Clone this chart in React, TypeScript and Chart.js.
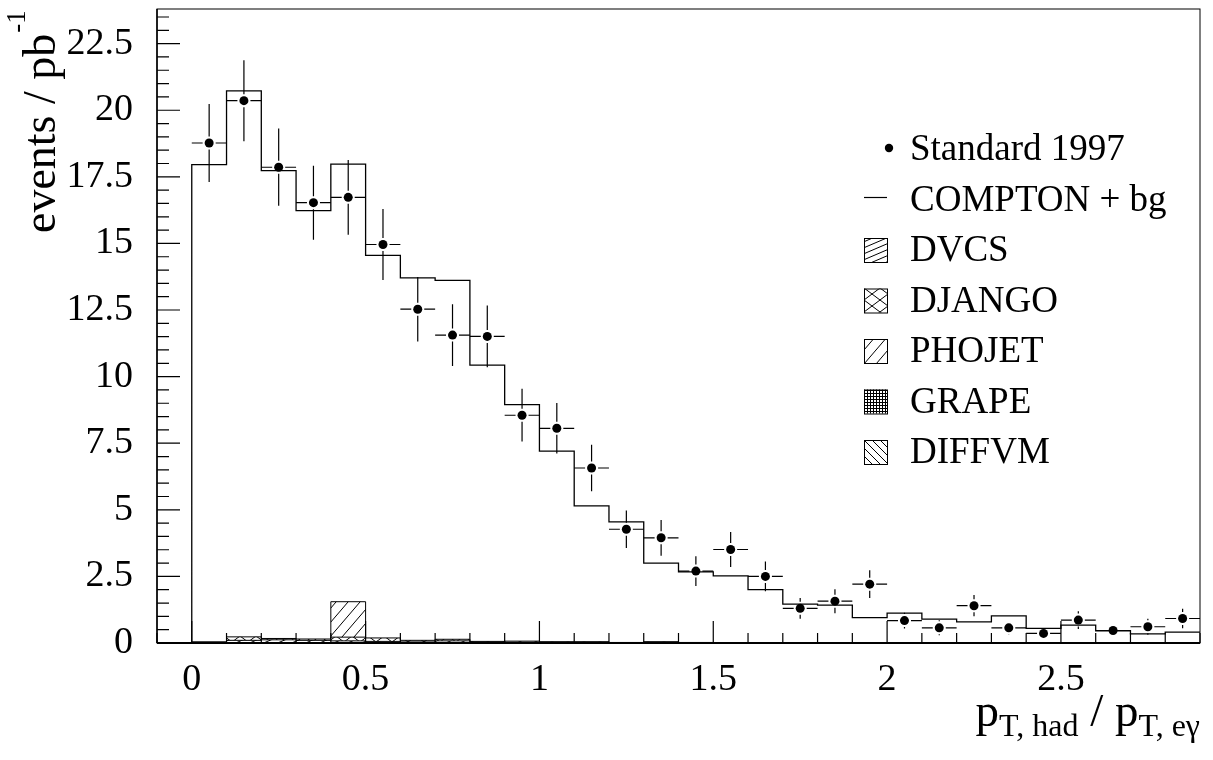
import React, { useEffect, useRef } from "react";
import { Chart, registerables } from "chart.js";

Chart.register(...registerables);

// ---------- data ----------
const binLeft = [
  0, 0.1, 0.2, 0.3, 0.4, 0.5, 0.6, 0.7, 0.8, 0.9,
  1.0, 1.1, 1.2, 1.3, 1.4, 1.5, 1.6, 1.7, 1.8, 1.9,
  2.0, 2.1, 2.2, 2.3, 2.4, 2.5, 2.6, 2.7, 2.8,
];
const binWidth = 0.1;
const lastEdge = 2.9;

const comptonBg = [
  17.96, 20.73, 17.73, 16.23, 17.98, 14.55, 13.71, 13.61, 10.43, 8.95,
  7.2, 5.15, 4.55, 3.0, 2.67, 2.52, 2.0, 1.46, 1.42, 0.95,
  1.12, 0.9, 0.79, 1.02, 0.55, 0.67, 0.46, 0.34, 0.41,
];

const data1997 = [
  18.77, 20.36, 17.86, 16.53, 16.73, 14.96, 12.53, 11.56, 11.51, 8.55,
  8.06, 6.57, 4.27, 3.95, 2.7, 3.51, 2.5, 1.3, 1.57, 2.21,
  0.84, 0.57, 1.4, 0.57, 0.36, 0.86, 0.47, 0.61, 0.92,
];
const data1997Err = [
  1.46, 1.52, 1.45, 1.39, 1.4, 1.33, 1.21, 1.16, 1.16, 0.99,
  0.95, 0.87, 0.7, 0.67, 0.56, 0.66, 0.56, 0.39, 0.45, 0.52,
  0.3, 0.28, 0.4, 0.25, 0.18, 0.33, 0.22, 0.3, 0.37,
];

const dvcs = [
  0.02, 0.1, 0.12, 0.1, 0.08, 0.06, 0.04, 0.08, 0.03, 0.03,
  0.02, 0.02, 0.01, 0.02, 0.01, 0, 0, 0, 0, 0,
  0, 0, 0, 0, 0, 0, 0, 0, 0,
];
const django = [
  0.03, 0.23, 0.17, 0.15, 0.22, 0.19, 0.1, 0.14, 0.06, 0.07,
  0.05, 0.05, 0.02, 0.05, 0.02, 0.01, 0.01, 0, 0, 0,
  0, 0, 0, 0, 0, 0, 0, 0, 0,
];
const phojet = [
  0, 0, 0, 0, 1.55, 0, 0, 0, 0, 0,
  0, 0, 0, 0, 0, 0, 0, 0, 0, 0,
  0, 0, 0, 0, 0, 0, 0, 0, 0,
];
const grape = [
  0.04, 0.05, 0.05, 0.06, 0.08, 0.04, 0.03, 0.02, 0.02, 0.02,
  0.01, 0.01, 0.01, 0.01, 0, 0, 0, 0, 0, 0,
  0, 0, 0, 0, 0, 0, 0, 0, 0,
];
const diffvm = [
  0.02, 0.04, 0.03, 0.03, 0.04, 0.03, 0.02, 0.02, 0.01, 0.01,
  0, 0, 0, 0, 0, 0, 0, 0, 0, 0,
  0, 0, 0, 0, 0, 0, 0, 0, 0,
];

const xTickValues = [0, 0.5, 1, 1.5, 2, 2.5];
const xTickLabels = ["0", "0.5", "1", "1.5", "2", "2.5"];
const yTickValues = [0, 2.5, 5, 7.5, 10, 12.5, 15, 17.5, 20, 22.5];
const yTickLabels = ["0", "2.5", "5", "7.5", "10", "12.5", "15", "17.5", "20", "22.5"];

const legendLabels = [
  "Standard 1997",
  "COMPTON + bg",
  "DVCS",
  "DJANGO",
  "PHOJET",
  "GRAPE",
  "DIFFVM",
];
const legendKinds = ["marker", "line", "dvcs", "django", "phojet", "grape", "diffvm"];

const yTitleMain = "events / pb";
const yTitleSup = "-1";
const xTitleParts = [
  { t: "p", sub: false },
  { t: "T, had", sub: true },
  { t: " / ", sub: false },
  { t: "p", sub: false },
  { t: "T, eγ", sub: true },
];

const FONT = "'Liberation Serif', 'Times New Roman', serif";

// ---------- helpers ----------
function histPoints(vals: number[]) {
  const pts: { x: number; y: number }[] = [{ x: binLeft[0], y: 0 }];
  vals.forEach((v, i) => pts.push({ x: binLeft[i], y: v }));
  pts.push({ x: lastEdge, y: vals[vals.length - 1] });
  return pts;
}

function makePattern(kind: string): CanvasPattern | string {
  const c = document.createElement("canvas");
  let w = 8;
  let h = 8;
  const dirs: string[] = [];
  let grid = false;
  if (kind === "dvcs") { w = 14; h = 6; dirs.push("/"); }
  else if (kind === "django") { w = 16; h = 12; dirs.push("/", "\\"); }
  else if (kind === "phojet") { w = 12; h = 14; dirs.push("/"); }
  else if (kind === "diffvm") { w = 8; h = 8; dirs.push("\\"); }
  else if (kind === "grape") { w = 3; h = 3; grid = true; }
  c.width = w;
  c.height = h;
  const g = c.getContext("2d")!;
  g.fillStyle = "#fff";
  g.fillRect(0, 0, w, h);
  g.strokeStyle = "#000";
  g.lineWidth = 1;
  if (grid) {
    g.beginPath();
    g.moveTo(0.5, 0); g.lineTo(0.5, h);
    g.moveTo(0, 0.5); g.lineTo(w, 0.5);
    g.stroke();
  }
  dirs.forEach((d) => {
    g.beginPath();
    for (let n = -1; n <= 2; n++) {
      if (d === "/") {
        g.moveTo((n + 1) * w, -h);
        g.lineTo((n - 2) * w, 2 * h);
      } else {
        g.moveTo((n - 1) * w, -h);
        g.lineTo((n + 2) * w, 2 * h);
      }
    }
    g.stroke();
  });
  const p = g.createPattern(c, "repeat");
  return p || "#fff";
}

// ---------- plugins ----------
const errorBarPlugin = {
  id: "errorBars",
  afterDatasetsDraw(chart: any) {
    const xs = chart.scales.x;
    const ys = chart.scales.y;
    const ctx = chart.ctx as CanvasRenderingContext2D;
    const a = chart.chartArea;
    ctx.save();
    ctx.beginPath();
    ctx.rect(a.left, a.top, a.right - a.left, a.bottom - a.top);
    ctx.clip();
    ctx.strokeStyle = "#000";
    ctx.lineWidth = 1.2;
    const gap = 6.5;
    data1997.forEach((v, i) => {
      const xl = xs.getPixelForValue(binLeft[i]);
      const xr = xs.getPixelForValue(binLeft[i] + binWidth);
      const cx = xs.getPixelForValue(binLeft[i] + binWidth / 2);
      const cy = ys.getPixelForValue(v);
      const yt = ys.getPixelForValue(v + data1997Err[i]);
      const yb = ys.getPixelForValue(Math.max(0, v - data1997Err[i]));
      ctx.beginPath();
      ctx.moveTo(xl, cy); ctx.lineTo(cx - gap, cy);
      ctx.moveTo(cx + gap, cy); ctx.lineTo(xr, cy);
      if (yt < cy - gap) { ctx.moveTo(cx, yt); ctx.lineTo(cx, cy - gap); }
      if (yb > cy + gap) { ctx.moveTo(cx, cy + gap); ctx.lineTo(cx, yb); }
      ctx.stroke();
    });
    ctx.restore();
  },
};

const framePlugin = {
  id: "frameTicks",
  afterDraw(chart: any) {
    const ctx = chart.ctx as CanvasRenderingContext2D;
    const a = chart.chartArea;
    const xs = chart.scales.x;
    const ys = chart.scales.y;
    ctx.save();
    ctx.strokeStyle = "#000";
    // frame
    ctx.lineWidth = 1;
    ctx.strokeRect(a.left, a.top, a.right - a.left, a.bottom - a.top);
    ctx.lineWidth = 2;
    ctx.beginPath();
    ctx.moveTo(a.left, a.bottom); ctx.lineTo(a.right, a.bottom);
    ctx.stroke();
    ctx.lineWidth = 1.5;
    ctx.beginPath();
    ctx.moveTo(a.left, a.top); ctx.lineTo(a.left, a.bottom);
    ctx.stroke();
    // y ticks (inside)
    ctx.lineWidth = 1.2;
    ctx.beginPath();
    for (let k = 0; k <= 47; k++) {
      const v = k * 0.5;
      if (v > ys.max) break;
      const py = ys.getPixelForValue(v);
      const len = k % 5 === 0 ? 23 : 12;
      ctx.moveTo(a.left, py); ctx.lineTo(a.left + len, py);
    }
    // x ticks (inside)
    for (let k = -1; k <= 29; k++) {
      const v = k * 0.1;
      const px = xs.getPixelForValue(v);
      const len = k % 5 === 0 ? 22 : 10;
      ctx.moveTo(px, a.bottom); ctx.lineTo(px, a.bottom - len);
    }
    ctx.stroke();
    ctx.restore();
  },
};

const titlePlugin = {
  id: "titles",
  afterDraw(chart: any) {
    const ctx = chart.ctx as CanvasRenderingContext2D;
    const a = chart.chartArea;
    ctx.save();
    ctx.fillStyle = "#000";
    ctx.textBaseline = "alphabetic";
    ctx.textAlign = "left";
    // y title
    ctx.save();
    ctx.translate(55, 233);
    ctx.rotate(-Math.PI / 2);
    ctx.font = `46px ${FONT}`;
    ctx.fillText(yTitleMain, 0, 0);
    const w = ctx.measureText(yTitleMain).width;
    ctx.font = `27px ${FONT}`;
    ctx.fillText(yTitleSup, w + 1, -30);
    ctx.restore();
    // x title (right aligned to frame)
    const big = `47px ${FONT}`;
    const small = `32px ${FONT}`;
    let total = 0;
    xTitleParts.forEach((p) => {
      ctx.font = p.sub ? small : big;
      total += ctx.measureText(p.t).width;
    });
    let x = a.right - total;
    const base = 726;
    xTitleParts.forEach((p) => {
      ctx.font = p.sub ? small : big;
      ctx.fillText(p.t, x, p.sub ? base + 10 : base);
      x += ctx.measureText(p.t).width;
    });
    ctx.restore();
  },
};

const legendPlugin = {
  id: "hatchLegend",
  afterDraw(chart: any) {
    const ctx = chart.ctx as CanvasRenderingContext2D;
    const pats: Record<string, any> = chart.$patterns || {};
    ctx.save();
    ctx.font = `37px ${FONT}`;
    ctx.fillStyle = "#000";
    ctx.textBaseline = "alphabetic";
    ctx.textAlign = "left";
    const textX = 910;
    const boxL = 864;
    const boxW = 23;
    const boxH = 24;
    legendLabels.forEach((label, i) => {
      const base = 160 + i * 50.5;
      const kind = legendKinds[i];
      const mid = base - 12;
      if (kind === "marker") {
        ctx.beginPath();
        ctx.arc(889, mid, 4.2, 0, Math.PI * 2);
        ctx.fill();
      } else if (kind === "line") {
        ctx.strokeStyle = "#000";
        ctx.lineWidth = 1.2;
        ctx.beginPath();
        ctx.moveTo(boxL, mid - 1); ctx.lineTo(boxL + boxW, mid - 1);
        ctx.stroke();
      } else {
        ctx.fillStyle = pats[kind] || "#fff";
        ctx.fillRect(boxL, base - boxH + 1, boxW, boxH);
        ctx.strokeStyle = "#000";
        ctx.lineWidth = 1;
        ctx.strokeRect(boxL + 0.5, base - boxH + 1.5, boxW, boxH);
        ctx.fillStyle = "#000";
      }
      ctx.fillText(label, textX, base);
    });
    ctx.restore();
  },
};

// ---------- component ----------
export default function App() {
  const ref = useRef<HTMLCanvasElement | null>(null);

  useEffect(() => {
    const canvas = ref.current;
    if (!canvas) return;
    const patterns: Record<string, any> = {
      dvcs: makePattern("dvcs"),
      django: makePattern("django"),
      phojet: makePattern("phojet"),
      grape: makePattern("grape"),
      diffvm: makePattern("diffvm"),
    };

    const compDs = (label: string, vals: number[], kind: string) => ({
      type: "line" as const,
      label,
      data: histPoints(vals),
      stepped: "before" as const,
      showLine: true,
      fill: "origin",
      backgroundColor: patterns[kind],
      borderColor: "#000",
      borderWidth: 1,
      pointRadius: 0,
    });

    const chart = new Chart(canvas, {
      type: "scatter",
      data: {
        datasets: [
          {
            type: "scatter" as const,
            label: legendLabels[0],
            data: data1997.map((v, i) => ({ x: binLeft[i] + binWidth / 2, y: v })),
            pointRadius: 4.5,
            pointBackgroundColor: "#000",
            pointBorderWidth: 0,
            showLine: false,
          } as any,
          {
            type: "line" as const,
            label: legendLabels[1],
            data: histPoints(comptonBg),
            stepped: "before" as const,
            showLine: true,
            fill: false,
            borderColor: "#000",
            borderWidth: 1.3,
            pointRadius: 0,
          } as any,
          compDs(legendLabels[2], dvcs, "dvcs") as any,
          compDs(legendLabels[3], django, "django") as any,
          compDs(legendLabels[5], grape, "grape") as any,
          compDs(legendLabels[6], diffvm, "diffvm") as any,
          compDs(legendLabels[4], phojet, "phojet") as any,
        ],
      },
      options: {
        animation: false,
        responsive: false,
        events: [],
        layout: { padding: { top: 9, right: 13, left: 0, bottom: 0 } },
        plugins: {
          legend: { display: false },
          tooltip: { enabled: false },
        },
        scales: {
          x: {
            type: "linear",
            min: -0.1,
            max: 2.9,
            grid: { display: false, drawTicks: false },
            border: { display: false },
            afterBuildTicks: (s: any) => {
              s.ticks = xTickValues.map((v) => ({ value: v }));
            },
            afterFit: (s: any) => {
              s.height = 117;
              s.paddingLeft = 0;
              s.paddingRight = 0;
            },
            ticks: {
              color: "#000",
              font: { family: FONT, size: 38 },
              padding: 14,
              maxRotation: 0,
              autoSkip: false,
              callback: (_v: any, i: number) => xTickLabels[i],
            },
          },
          y: {
            type: "linear",
            min: 0,
            max: 23.8,
            grid: { display: false, drawTicks: false },
            border: { display: false },
            afterBuildTicks: (s: any) => {
              s.ticks = yTickValues.map((v) => ({ value: v }));
            },
            afterFit: (s: any) => {
              s.width = 157;
              s.paddingTop = 0;
              s.paddingBottom = 0;
            },
            ticks: {
              color: "#000",
              font: { family: FONT, size: 38 },
              padding: 24,
              autoSkip: false,
              callback: (_v: any, i: number) => yTickLabels[i],
            },
          },
        },
      } as any,
      plugins: [errorBarPlugin, framePlugin, titlePlugin, legendPlugin],
    });
    (chart as any).$patterns = patterns;
    chart.draw();

    return () => {
      chart.destroy();
    };
  }, []);

  return (
    <canvas
      ref={ref}
      width={1213}
      height={760}
      style={{ position: "fixed", left: 0, top: 0, display: "block", background: "#fff" }}
    />
  );
}
